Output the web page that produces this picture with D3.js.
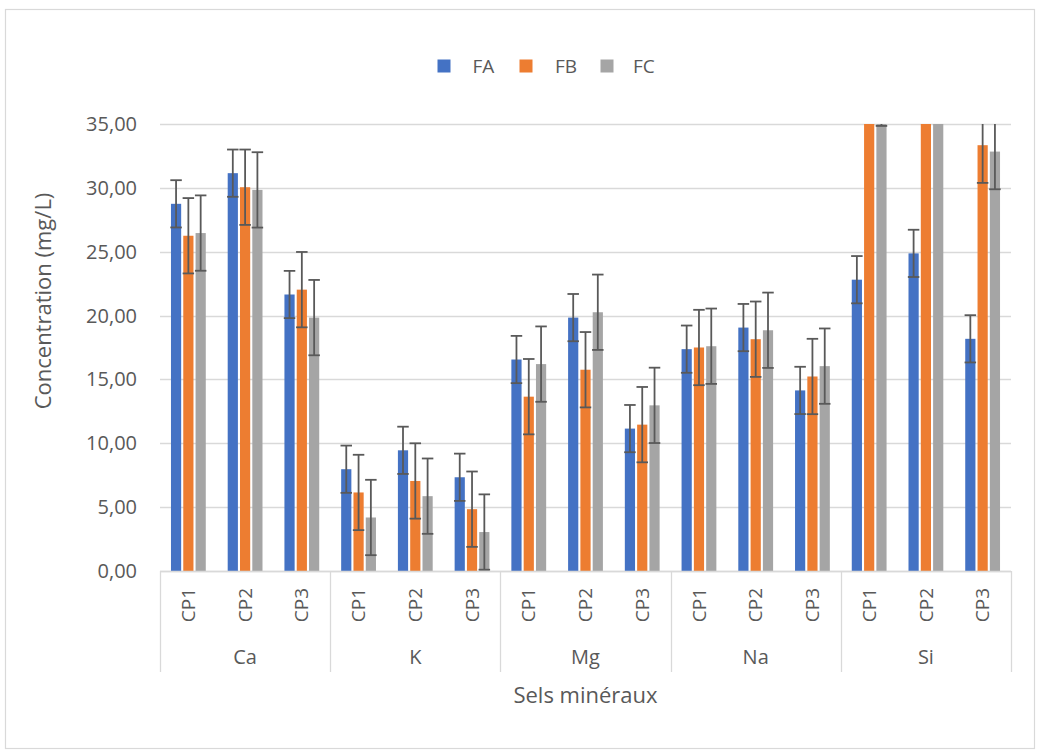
<!DOCTYPE html>
<html>
<head>
<meta charset="utf-8">
<script src="https://cdn.jsdelivr.net/npm/d3@7/dist/d3.min.js"></script>
<style>
  html, body { margin: 0; padding: 0; background: #fff; }
  svg { display: block; }
  text { font-family: "Open Sans", sans-serif; fill: #595959; }
</style>
</head>
<body>
<svg id="chart" width="1038" height="754"></svg>
<script>
// ---- Data ----
const groups = ["Ca", "K", "Mg", "Na", "Si"];
const subCategories = ["CP1", "CP2", "CP3"];
const seriesNames = ["FA", "FB", "FC"];
const seriesColors = ["#4472C4", "#ED7D31", "#A5A5A5"];

const valuesFA = [28.75, 31.15, 21.65, 7.97, 9.45, 7.34, 16.56, 19.84, 11.15, 17.37, 19.06, 14.14, 22.81, 24.87, 18.18];
const valuesFB = [26.25, 30.05, 22.03, 6.15, 7.05, 4.84, 13.65, 15.76, 11.46, 17.50, 18.15, 15.23, 39.00, 40.00, 33.34];
const valuesFC = [26.46, 29.84, 19.84, 4.19, 5.86, 3.05, 16.20, 20.26, 12.97, 17.60, 18.85, 16.04, 37.80, 39.00, 32.84];

const errorsFA = [1.85, 1.85, 1.85, 1.85, 1.85, 1.85, 1.85, 1.85, 1.85, 1.85, 1.85, 1.85, 1.85, 1.85, 1.85];
const errorsFB = [2.95, 2.95, 2.95, 2.95, 2.95, 2.95, 2.95, 2.95, 2.95, 2.95, 2.95, 2.95, 2.95, 2.95, 2.95];
const errorsFC = [2.95, 2.95, 2.95, 2.95, 2.95, 2.95, 2.95, 2.95, 2.95, 2.95, 2.95, 2.95, 2.95, 2.95, 2.95];

const yTicks = [0, 5, 10, 15, 20, 25, 30, 35];
const yTitle = "Concentration (mg/L)";
const xTitle = "Sels minéraux";

// ---- Layout ----
const svg = d3.select("#chart");
const plot = { left: 160, right: 1011, top: 124, bottom: 571 };

const seriesValues = [valuesFA, valuesFB, valuesFC];
const seriesErrors = [errorsFA, errorsFB, errorsFC];

const rows = [];
groups.forEach((g, gi) => {
  subCategories.forEach((c, ci) => {
    const idx = gi * subCategories.length + ci;
    seriesNames.forEach((s, si) => {
      rows.push({ group: g, cat: c, key: g + "|" + c, series: s, si,
                  value: seriesValues[si][idx], err: seriesErrors[si][idx] });
    });
  });
});

const x0 = d3.scaleBand().domain(groups).range([plot.left, plot.right]).padding(0);
const x1 = d3.scaleBand().domain(subCategories).range([0, x0.bandwidth()]).padding(0);
const slotWidth = 12.3;
const barWidth = 10.2;
const xs = d3.scaleBand().domain(seriesNames)
  .range([x1.bandwidth() / 2 - slotWidth * 1.5, x1.bandwidth() / 2 + slotWidth * 1.5]);
const y = d3.scaleLinear().domain([0, 35]).range([plot.bottom, plot.top]);

// Outer border
svg.append("rect").attr("x", 5.5).attr("y", 9.5).attr("width", 1029).attr("height", 739)
  .attr("fill", "#fff").attr("stroke", "#d9d9d9").attr("stroke-width", 1.2);

// Gridlines
svg.append("g").selectAll("line").data(yTicks).join("line")
  .attr("x1", plot.left).attr("x2", plot.right)
  .attr("y1", d => Math.round(y(d)) + 0.5).attr("y2", d => Math.round(y(d)) + 0.5)
  .attr("stroke", "#d9d9d9").attr("stroke-width", 1.3);

// Y tick labels
const fmt = d => d3.format(".2f")(d).replace(".", ",");
svg.append("g").selectAll("text").data(yTicks).join("text")
  .attr("x", 137).attr("y", d => y(d)).attr("dy", "0.35em")
  .attr("text-anchor", "end").attr("font-size", 20).text(fmt);

// Clip
svg.append("defs").append("clipPath").attr("id", "plotclip")
  .append("rect").attr("x", plot.left).attr("y", plot.top)
  .attr("width", plot.right - plot.left).attr("height", plot.bottom - plot.top);

const gPlot = svg.append("g").attr("clip-path", "url(#plotclip)");

const barX = d => x0(d.group) + x1(d.cat) + xs(d.series) + (slotWidth - barWidth) / 2;
const barC = d => x0(d.group) + x1(d.cat) + xs(d.series) + slotWidth / 2;

gPlot.selectAll("rect.bar").data(rows).join("rect")
  .attr("class", "bar")
  .attr("x", barX).attr("width", barWidth)
  .attr("y", d => y(d.value)).attr("height", d => y(0) - y(d.value))
  .attr("fill", d => seriesColors[d.si]);

// Error bars
const capW = 11.5;
const eg = gPlot.append("g").attr("stroke", "#595959").attr("stroke-width", 1.8);
eg.selectAll("line.ev").data(rows).join("line").attr("class", "ev")
  .attr("x1", barC).attr("x2", barC)
  .attr("y1", d => y(d.value + d.err)).attr("y2", d => y(d.value - d.err));
eg.selectAll("line.et").data(rows).join("line").attr("class", "et")
  .attr("x1", d => barC(d) - capW / 2).attr("x2", d => barC(d) + capW / 2)
  .attr("y1", d => y(d.value + d.err)).attr("y2", d => y(d.value + d.err));
eg.selectAll("line.eb").data(rows).join("line").attr("class", "eb")
  .attr("x1", d => barC(d) - capW / 2).attr("x2", d => barC(d) + capW / 2)
  .attr("y1", d => y(d.value - d.err)).attr("y2", d => y(d.value - d.err));

// Category axis line
svg.append("line").attr("x1", plot.left).attr("x2", plot.right)
  .attr("y1", plot.bottom + 0.5).attr("y2", plot.bottom + 0.5)
  .attr("stroke", "#d9d9d9").attr("stroke-width", 1.3);

// Group separators
const bounds = groups.map(g => x0(g)).concat([plot.right]);
svg.append("g").selectAll("line").data(bounds).join("line")
  .attr("x1", d => Math.round(d) + 0.5).attr("x2", d => Math.round(d) + 0.5)
  .attr("y1", plot.bottom).attr("y2", 672)
  .attr("stroke", "#d9d9d9").attr("stroke-width", 1.3);

// Sub-category labels (rotated)
const catData = [];
groups.forEach(g => subCategories.forEach(c => catData.push({ g, c })));
svg.append("g").selectAll("text").data(catData).join("text")
  .attr("transform", d => `translate(${x0(d.g) + x1(d.c) + x1.bandwidth() / 2},605) rotate(-90)`)
  .attr("text-anchor", "middle").attr("dy", "0.35em").attr("font-size", 19)
  .text(d => d.c);

// Group labels
svg.append("g").selectAll("text").data(groups).join("text")
  .attr("x", d => x0(d) + x0.bandwidth() / 2).attr("y", 657).attr("dy", "0.35em")
  .attr("text-anchor", "middle").attr("font-size", 20).text(d => d);

// Axis titles
svg.append("text").attr("x", (plot.left + plot.right) / 2).attr("y", 695).attr("dy", "0.35em")
  .attr("text-anchor", "middle").attr("font-size", 22).text(xTitle);
svg.append("text").attr("transform", "translate(43,301) rotate(-90)")
  .attr("text-anchor", "middle").attr("dy", "0.35em").attr("font-size", 22).text(yTitle);

// Legend
const legendSquareX = [437.5, 519.5, 600.5];
const legendTextX = [472.5, 555, 633];
const lg = svg.append("g");
seriesNames.forEach((s, i) => {
  lg.append("rect").attr("x", legendSquareX[i]).attr("y", 59.5).attr("width", 13).attr("height", 13)
    .attr("fill", seriesColors[i]);
  lg.append("text").attr("x", legendTextX[i]).attr("y", 66).attr("dy", "0.35em")
    .attr("font-size", 19).text(s);
});
</script>
</body>
</html>
